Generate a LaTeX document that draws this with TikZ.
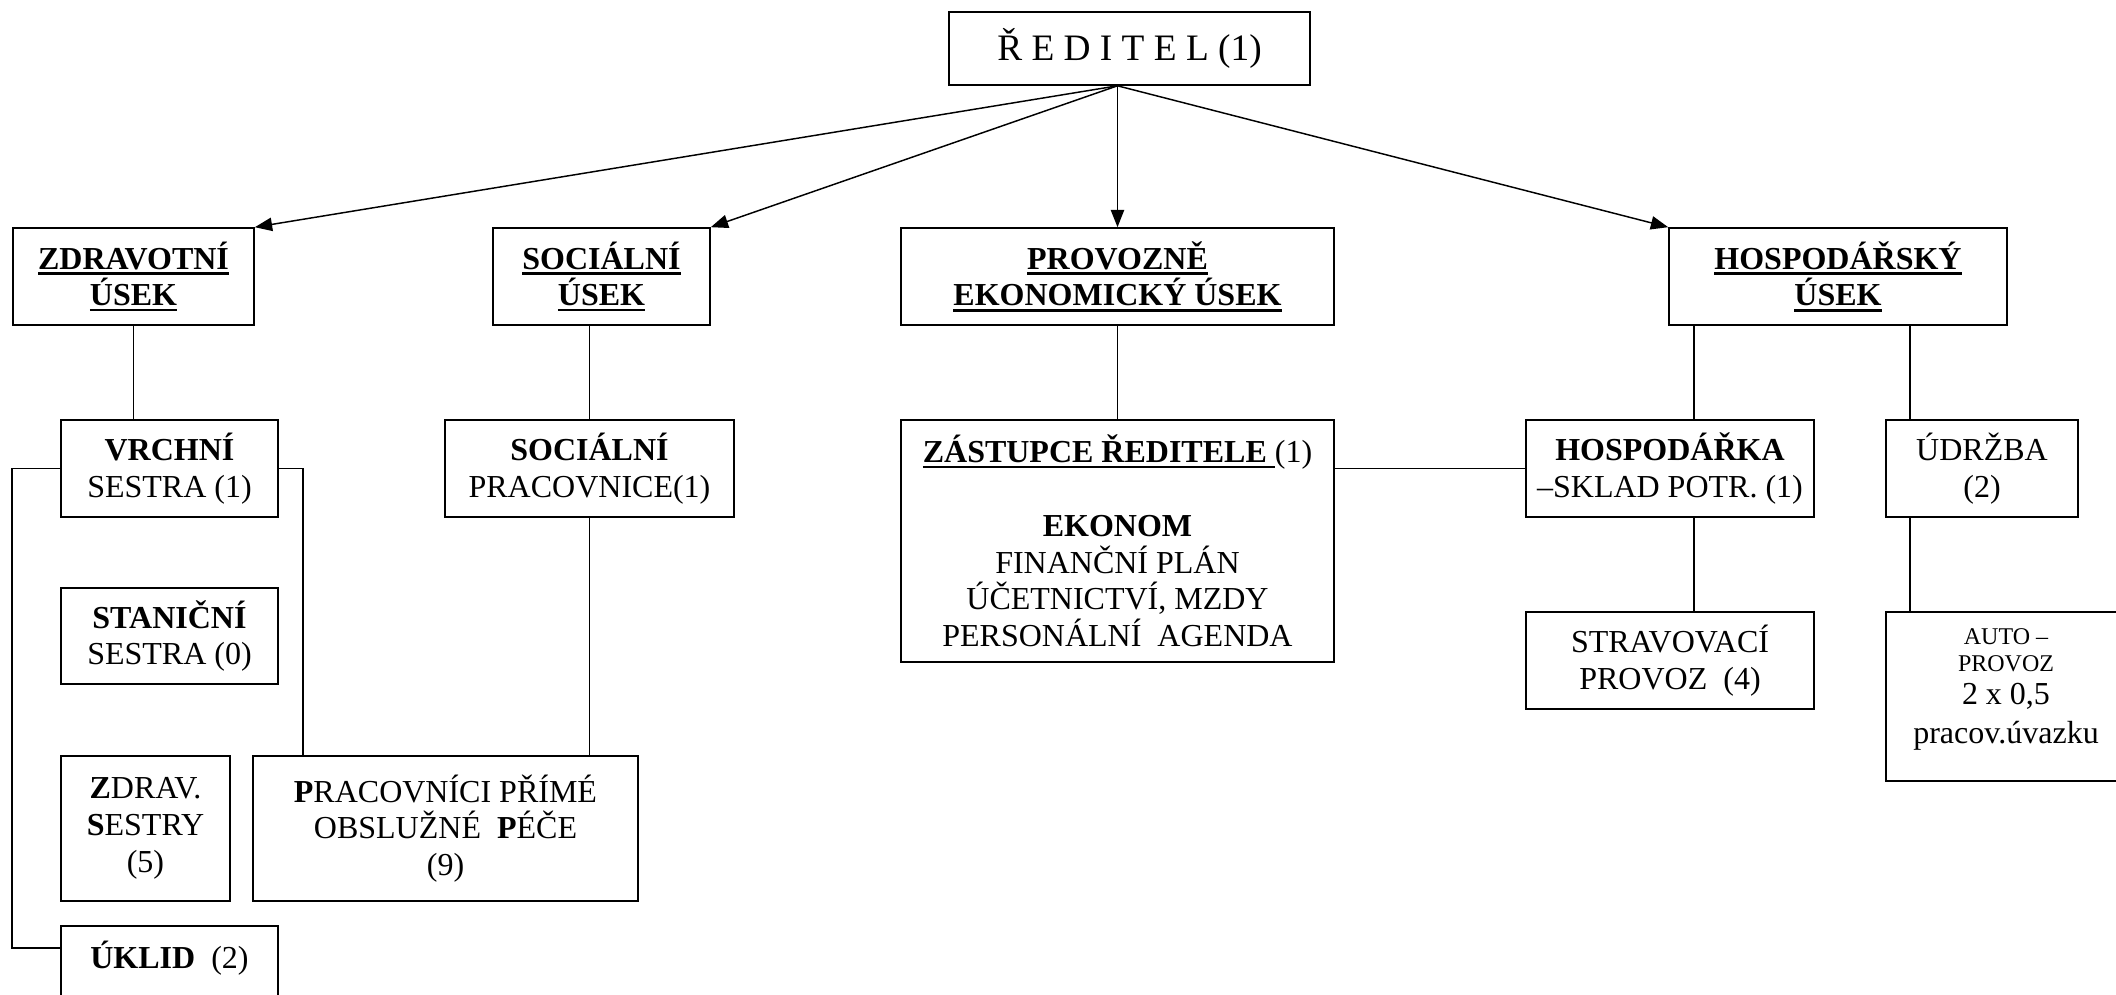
\documentclass[tikz,border=0pt]{standalone}
\usepackage{fontspec}
\setmainfont{Liberation Serif}
\usetikzlibrary{arrows.meta,calc}
\newcommand\ulb[1]{\setbox0\hbox{\textbf{#1}}\rlap{\rule[-2.1pt]{\wd0}{0.9pt}}\box0}
\begin{document}
\begin{tikzpicture}[x=0.375pt, y=-0.375pt,
    box/.style={draw=black, line width=0.6pt, align=center, inner sep=0pt,
        font=\fontsize{12}{13.8}\selectfont},
    dims/.style 2 args={minimum width=#1*0.375pt, minimum height=#2*0.375pt},
    arr/.style={draw=black, line width=0.55pt, -{Triangle[length=6.5pt,width=5pt]}},
    link/.style={draw=black, line width=0.55pt}]
    \useasboundingbox (0,0) rectangle (2116,995);

    % director
    \node[box, dims={361}{73}, font=\fontsize{14}{16}\selectfont] (reditel) at (1129.5,48.5) {Ř E D I T E L (1)};

    % sections
    \node[box, dims={241}{97}] (zdrav) at (133.5,276.5) {\ulb{ZDRAVOTNÍ}\\\ulb{ÚSEK}};
    \node[box, dims={217}{97}] (socu) at (601.5,276.5) {\ulb{SOCIÁLNÍ}\\\ulb{ÚSEK}};
    \node[box, dims={433}{97}] (prov) at (1117.5,276.5) {\ulb{PROVOZNĚ}\\\ulb{EKONOMICKÝ ÚSEK}};
    \node[box, dims={338}{97}] (hosp) at (1838,276.5) {\ulb{HOSPODÁŘSKÝ}\\\ulb{ÚSEK}};

    % second row
    \node[box, dims={217}{97}] (vrchni) at (169.5,468.5) {\textbf{VRCHNÍ}\\SESTRA (1)};
    \node[box, dims={289}{97}] (socprac) at (589.5,468.5) {\textbf{SOCIÁLNÍ}\\PRACOVNICE(1)};
    \node[box, dims={433}{242}] (zast) at (1117.5,541) {\ulb{ZÁSTUPCE ŘEDITELE\ }(1)\\[13.8pt]\textbf{EKONOM}\\FINANČNÍ PLÁN\\ÚČETNICTVÍ, MZDY\\PERSONÁLNÍ\ \ AGENDA};
    \node[box, dims={288}{97}] (hospka) at (1670,468.5) {\textbf{HOSPODÁŘKA}\\–SKLAD POTR. (1)};
    \node[box, dims={192}{97}] (udrzba) at (1982,468.5) {ÚDRŽBA\\(2)};

    % lower rows
    \node[box, dims={217}{96}] (stanicni) at (169.5,636) {\textbf{STANIČNÍ}\\SESTRA (0)};
    \node[box, dims={288}{97}] (strav) at (1670,660.5) {STRAVOVACÍ\\PROVOZ\ \ (4)};
    \node[box, dims={240}{169}] (auto) at (2006,696.5) {\fontsize{9}{10}\selectfont AUTO –\\[-3.5pt]\fontsize{9}{10}\selectfont PROVOZ\\[-1.5pt]2 x 0,5\\[1pt]pracov.úvazku\\[-6pt]};
    \node[box, dims={169}{145}] (zdrsestry) at (145.5,828.5) {\textbf{Z}DRAV.\\\textbf{S}ESTRY\\(5)};
    \node[box, dims={385}{145}] (pracovnici) at (445.5,828.5) {\textbf{P}RACOVNÍCI PŘÍMÉ\\OBSLUŽNÉ\ \ \textbf{P}ÉČE\\(9)};
    \node[box, anchor=north, minimum width=217*0.375pt, text height=16pt, text depth=16pt] (uklid) at (169.5,925) {\textbf{ÚKLID}\ \ (2)};

    % arrows from the director
    \coordinate (rsrc) at (prov.north |- reditel.south);
    \draw[arr] (rsrc) -- (zdrav.north east);
    \draw[arr] (rsrc) -- (socu.north east);
    \draw[arr] (rsrc) -- (prov.north);
    \draw[arr] (rsrc) -- (hosp.north west);

    % plain links
    \coordinate (ukin) at ($(uklid.north west)+(0,23)$);
    \draw[link] (zdrav.south) -- (zdrav.south |- vrchni.north);
    \draw[link] (vrchni.west) -- ++(-48,0) |- (ukin);
    \draw[link] (vrchni.east) -- ++(24,0) coordinate (vr) -- (vr |- pracovnici.north);
    \draw[link] (socprac.north) -- (socprac.north |- socu.south);
    \draw[link] (socprac.south) -- (socprac.south |- pracovnici.north);
    \draw[link] (prov.south) -- (zast.north);
    \draw[link] (hospka.west) -- (hospka.west -| zast.east);
    \coordinate (hx) at (1694,0);
    \coordinate (ux) at (1910,0);
    \draw[link] (hx |- hosp.south) -- (hx |- hospka.north);
    \draw[link] (hx |- hospka.south) -- (hx |- strav.north);
    \draw[link] (ux |- hosp.south) -- (ux |- udrzba.north);
    \draw[link] (ux |- udrzba.south) -- (ux |- auto.north);
\end{tikzpicture}
\end{document}
